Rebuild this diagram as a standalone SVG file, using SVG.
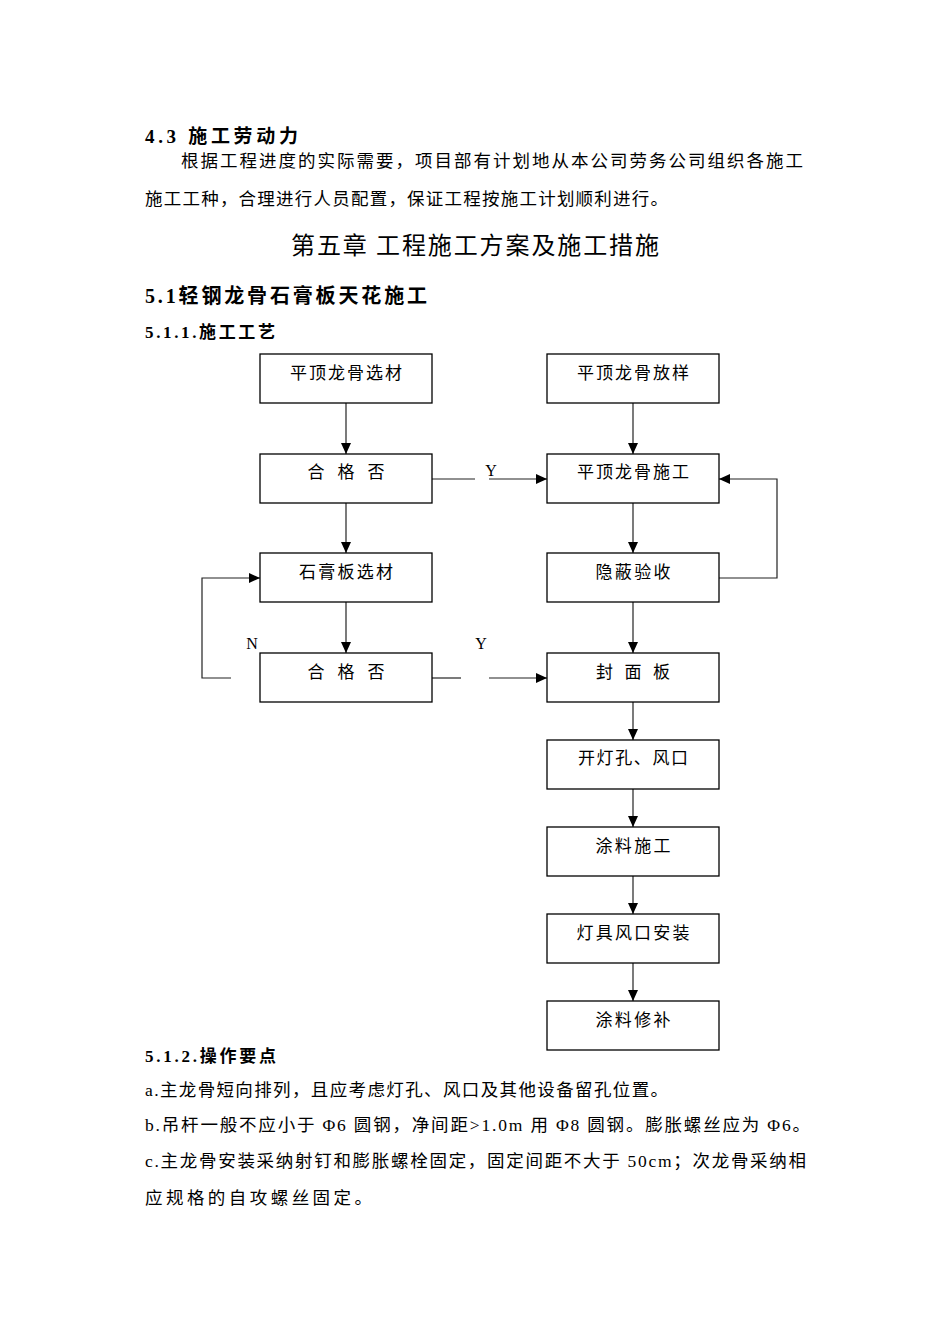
<svg xmlns="http://www.w3.org/2000/svg" width="950" height="1344" viewBox="0 0 950 1344">
<style>
.t{font-family:'Liberation Serif','Noto Sans CJK SC',serif;fill:#000}
.b{font-family:'Liberation Serif','Noto Sans CJK SC',serif;font-weight:bold;fill:#000}
.h{font-family:'Noto Sans CJK SC','Liberation Sans',sans-serif;fill:#000}
.box{fill:#fff;stroke:#000;stroke-width:1.3}
.lbl{font-family:'Liberation Serif','Noto Sans CJK SC',serif;font-size:17px;text-anchor:middle;fill:#000}
.yn{font-family:'Liberation Serif',serif;font-size:16px;text-anchor:middle;fill:#000}
.ln{fill:none;stroke:#222;stroke-width:1.2}
</style>
<defs>
<marker id="arr" markerUnits="userSpaceOnUse" markerWidth="12" markerHeight="11" refX="11" refY="5" orient="auto">
<path d="M0,0 L11,5 L0,10 z" fill="#000"/>
</marker>
</defs>
<rect width="950" height="1344" fill="#fff"/>

<g id="text-top">
<text class="b" x="145" y="143" font-size="19" textLength="153" lengthAdjust="spacing">4.3 施工劳动力</text>
<text class="t" x="181" y="167" font-size="17.5" textLength="622" lengthAdjust="spacing">根据工程进度的实际需要，项目部有计划地从本公司劳务公司组织各施工</text>
<text class="t" x="145" y="205" font-size="17.5" textLength="523" lengthAdjust="spacing">施工工种，合理进行人员配置，保证工程按施工计划顺利进行。</text>
<text class="h" x="291" y="254" font-size="24" textLength="368" lengthAdjust="spacing">第五章 工程施工方案及施工措施</text>
<text class="b" x="145" y="303" font-size="20" textLength="282" lengthAdjust="spacing">5.1轻钢龙骨石膏板天花施工</text>
<text class="b" x="145" y="338" font-size="17" textLength="130" lengthAdjust="spacing">5.1.1.施工工艺</text>
</g>

<g id="connectors">
<line class="ln" x1="346" y1="403" x2="346" y2="454" marker-end="url(#arr)"/>
<line class="ln" x1="633" y1="403" x2="633" y2="454" marker-end="url(#arr)"/>
<line class="ln" x1="432" y1="479" x2="475" y2="479"/>
<line class="ln" x1="489" y1="479" x2="547" y2="479" marker-end="url(#arr)"/>
<line class="ln" x1="346" y1="503" x2="346" y2="553" marker-end="url(#arr)"/>
<line class="ln" x1="633" y1="503" x2="633" y2="553" marker-end="url(#arr)"/>
<polyline class="ln" points="719,578 777,578 777,479 719,479" marker-end="url(#arr)"/>
<line class="ln" x1="346" y1="602" x2="346" y2="653" marker-end="url(#arr)"/>
<polyline class="ln" points="231,678 202,678 202,578 260,578" marker-end="url(#arr)"/>
<line class="ln" x1="432" y1="678" x2="461" y2="678"/>
<line class="ln" x1="489" y1="678" x2="547" y2="678" marker-end="url(#arr)"/>
<line class="ln" x1="633" y1="602" x2="633" y2="653" marker-end="url(#arr)"/>
<line class="ln" x1="633" y1="702" x2="633" y2="740" marker-end="url(#arr)"/>
<line class="ln" x1="633" y1="789" x2="633" y2="827" marker-end="url(#arr)"/>
<line class="ln" x1="633" y1="876" x2="633" y2="914" marker-end="url(#arr)"/>
<line class="ln" x1="633" y1="963" x2="633" y2="1001" marker-end="url(#arr)"/>
<text class="yn" x="491" y="476">Y</text>
<text class="yn" x="481" y="649">Y</text>
<text class="yn" x="252" y="649">N</text>
</g>

<g id="n1"><rect class="box" x="260" y="354" width="172" height="49"/><text class="lbl" x="346" y="379" textLength="112" lengthAdjust="spacing">平顶龙骨选材</text></g>
<g id="n2"><rect class="box" x="547" y="354" width="172" height="49"/><text class="lbl" x="633" y="379" textLength="112" lengthAdjust="spacing">平顶龙骨放样</text></g>
<g id="n3"><rect class="box" x="260" y="454" width="172" height="49"/><text class="lbl" x="346" y="478" textLength="77" lengthAdjust="spacing">合 格 否</text></g>
<g id="n4"><rect class="box" x="547" y="454" width="172" height="49"/><text class="lbl" x="633" y="478" textLength="112" lengthAdjust="spacing">平顶龙骨施工</text></g>
<g id="n5"><rect class="box" x="260" y="553" width="172" height="49"/><text class="lbl" x="346" y="578" textLength="94" lengthAdjust="spacing">石膏板选材</text></g>
<g id="n6"><rect class="box" x="547" y="553" width="172" height="49"/><text class="lbl" x="633" y="578" textLength="75" lengthAdjust="spacing">隐蔽验收</text></g>
<g id="n7"><rect class="box" x="260" y="653" width="172" height="49"/><text class="lbl" x="346" y="678" textLength="77" lengthAdjust="spacing">合 格 否</text></g>
<g id="n8"><rect class="box" x="547" y="653" width="172" height="49"/><text class="lbl" x="633" y="678" textLength="74" lengthAdjust="spacing">封 面 板</text></g>
<g id="n9"><rect class="box" x="547" y="740" width="172" height="49"/><text class="lbl" x="633" y="764" textLength="110" lengthAdjust="spacing">开灯孔、风口</text></g>
<g id="n10"><rect class="box" x="547" y="827" width="172" height="49"/><text class="lbl" x="633" y="852" textLength="75" lengthAdjust="spacing">涂料施工</text></g>
<g id="n11"><rect class="box" x="547" y="914" width="172" height="49"/><text class="lbl" x="633" y="939" textLength="113" lengthAdjust="spacing">灯具风口安装</text></g>
<g id="n12"><rect class="box" x="547" y="1001" width="172" height="49"/><text class="lbl" x="633" y="1026" textLength="75" lengthAdjust="spacing">涂料修补</text></g>

<g id="text-bottom">
<text class="b" x="145" y="1062" font-size="17" textLength="131" lengthAdjust="spacing">5.1.2.操作要点</text>
<text class="t" x="145" y="1096" font-size="17.5" textLength="523" lengthAdjust="spacing">a.主龙骨短向排列，且应考虑灯孔、风口及其他设备留孔位置。</text>
<text class="t" x="145" y="1131" font-size="17.5" textLength="665" lengthAdjust="spacing">b.吊杆一般不应小于 Φ6 圆钢，净间距&gt;1.0m 用 Φ8 圆钢。膨胀螺丝应为 Φ6。</text>
<text class="t" x="145" y="1167" font-size="17.5" textLength="661" lengthAdjust="spacing">c.主龙骨安装采纳射钉和膨胀螺栓固定，固定间距不大于 50cm；次龙骨采纳相</text>
<text class="t" x="145" y="1204" font-size="17.5" textLength="227" lengthAdjust="spacing">应规格的自攻螺丝固定。</text>
</g>
</svg>
